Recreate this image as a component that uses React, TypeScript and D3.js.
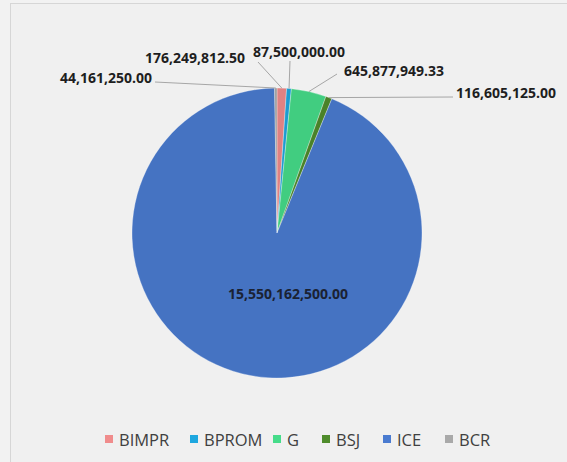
import React, { useRef, useEffect } from 'react';
import * as d3 from 'd3';

// ─── data ───
const categories = ['BIMPR', 'BPROM', 'G', 'BSJ', 'ICE', 'BCR'];
const values = [176249812.5, 87500000.0, 645877949.33, 116605125.0, 15550162500.0, 44161250.0];
const valueLabels = ['176,249,812.50', '87,500,000.00', '645,877,949.33', '116,605,125.00', '15,550,162,500.00', '44,161,250.00'];
const colors = ['#f08c8c', '#1ea7df', '#46dc8a', '#4f8c2c', '#4a7bd0', '#a9a9a9'];

// label placement (Excel-style manual positions): [x, y, anchor, lineX, lineY]
const labelPos: [number, number, string, number, number][] = [
  [195, 63, 'middle', 258, 62],
  [299, 57, 'middle', 290, 61],
  [394, 76, 'middle', 337, 74],
  [506, 98, 'middle', 453, 97],
  [288, 299, 'middle', NaN, NaN],
  [106, 83, 'middle', 155, 82],
];

const W = 567;
const H = 462;

export default function App() {
  const ref = useRef<SVGSVGElement>(null);

  useEffect(() => {
    if (!ref.current) return;
    const svg = d3.select(ref.current);
    svg.selectAll('*').remove();

    svg.append('rect').attr('width', W).attr('height', H).attr('fill', '#f2f2f2');
    svg.append('rect')
      .attr('x', 10.5).attr('y', 3.5)
      .attr('width', W).attr('height', H)
      .attr('fill', '#f0f0f0').attr('stroke', '#d6d6d6');

    const cx = 277, cy = 233, r = 145;

    const defs = svg.append('defs');
    colors.forEach((c, i) => {
      const grad = defs.append('radialGradient')
        .attr('id', `g${i}`)
        .attr('gradientUnits', 'userSpaceOnUse')
        .attr('cx', cx).attr('cy', cy).attr('r', r);
      grad.append('stop').attr('offset', '0%').attr('stop-color', d3.color(c)!.brighter(0.15).toString());
      grad.append('stop').attr('offset', '85%').attr('stop-color', c);
      grad.append('stop').attr('offset', '100%').attr('stop-color', d3.color(c)!.darker(0.2).toString());
    });

    const pie = d3.pie<number>().sort(null).value(d => d);
    const arcs = pie(values);
    const arc = d3.arc<d3.PieArcDatum<number>>().innerRadius(0).outerRadius(r);
    const edge = d3.arc<d3.PieArcDatum<number>>().innerRadius(r).outerRadius(r);

    const g = svg.append('g').attr('transform', `translate(${cx},${cy})`);
    g.selectAll('path.slice')
      .data(arcs)
      .enter()
      .append('path')
      .attr('class', 'slice')
      .attr('d', arc)
      .attr('fill', (_, i) => `url(#g${i})`)
      .attr('stroke', '#ffffff')
      .attr('stroke-opacity', 0.5)
      .attr('stroke-width', 0.6);

    // leader lines
    arcs.forEach((a, i) => {
      const [lx, ly] = [labelPos[i][3], labelPos[i][4]];
      if (isNaN(lx)) return;
      const [ex, ey] = edge.centroid(a);
      svg.append('line')
        .attr('x1', lx).attr('y1', ly)
        .attr('x2', cx + ex).attr('y2', cy + ey)
        .attr('stroke', '#a6a6a6').attr('stroke-width', 1);
    });

    // data labels
    arcs.forEach((_, i) => {
      const [x, y, anchor] = labelPos[i];
      svg.append('text')
        .attr('x', x).attr('y', y)
        .attr('text-anchor', anchor)
        .attr('font-family', '"Open Sans", sans-serif')
        .attr('font-size', 14)
        .attr('font-weight', 'bold')
        .attr('fill', i === 4 ? '#1a2233' : '#1e1e1e')
        .text(valueLabels[i]);
    });

    // legend
    const legendX = [105, 190, 273, 322, 383, 445];
    const legendY = 440;
    categories.forEach((c, i) => {
      const lg = svg.append('g').attr('transform', `translate(${legendX[i]},${legendY})`);
      lg.append('rect')
        .attr('x', 0).attr('y', -5)
        .attr('width', 8).attr('height', 8)
        .attr('fill', colors[i]);
      lg.append('text')
        .attr('x', 14).attr('y', 0)
        .attr('dy', '0.35em')
        .attr('font-family', '"Open Sans", sans-serif')
        .attr('font-size', 16.5)
        .attr('fill', '#404040')
        .text(c);
    });
  }, []);

  return (
    <svg
      ref={ref}
      width={W}
      height={H}
      style={{ position: 'absolute', left: 0, top: 0, display: 'block' }}
    />
  );
}
